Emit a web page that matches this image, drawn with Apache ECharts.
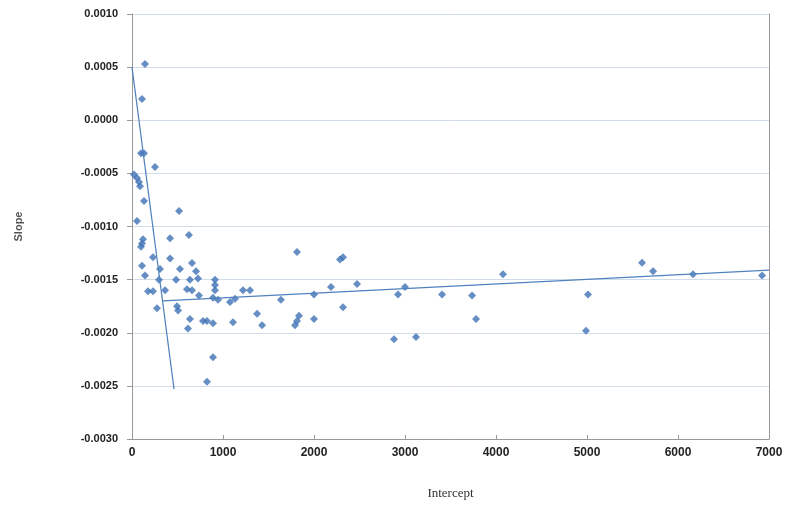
<!DOCTYPE html>
<html>
<head>
<meta charset="utf-8">
<script src="https://cdn.jsdelivr.net/npm/echarts@6/dist/echarts.min.js"></script>
<style>html,body{margin:0;padding:0;background:#fff;}#c{width:788px;height:506px;}</style>
</head>
<body>
<div id="c"></div>
<script>
var intercepts = [143,110,99,132,253,22,55,77,88,132,55,517,121,110,99,418,626,231,418,659,110,308,527,703,143,297,484,637,725,912,912,912,176,231,363,604,659,736,890,945,1077,1132,1220,1297,275,495,506,637,780,824,890,1110,1374,1429,615,890,824,1637,1813,1791,1813,1835,2000,2000,2187,2286,2319,2319,2473,2879,2923,3000,3121,3407,3737,3781,4077,5011,4989,5605,5726,6165,6924];
var slopes = [0.00053,0.0002,-0.00031,-0.00031,-0.00044,-0.00051,-0.000544,-0.00058,-0.00062,-0.00076,-0.000948,-0.000854,-0.00112,-0.00116,-0.00119,-0.00111,-0.00108,-0.00129,-0.0013,-0.001344,-0.00137,-0.0014,-0.0014,-0.00142,-0.00146,-0.0015,-0.0015,-0.0015,-0.00149,-0.0015,-0.00155,-0.0016,-0.00161,-0.00161,-0.0016,-0.00159,-0.0016,-0.00165,-0.00167,-0.00169,-0.00171,-0.00168,-0.0016,-0.0016,-0.00177,-0.00175,-0.00179,-0.00187,-0.00189,-0.00189,-0.00191,-0.0019,-0.00182,-0.00193,-0.00196,-0.00223,-0.00246,-0.00169,-0.00124,-0.00193,-0.00189,-0.00184,-0.00164,-0.00187,-0.00157,-0.00131,-0.00129,-0.00176,-0.00154,-0.00206,-0.00164,-0.00157,-0.00204,-0.00164,-0.00165,-0.00187,-0.00145,-0.00164,-0.00198,-0.00134,-0.00142,-0.00145,-0.00146];
var trendSteepX = [0, 462];
var trendSteepY = [0.0005, -0.00253];
var trendFlatX = [340, 7000];
var trendFlatY = [-0.0017, -0.00141];
var xTicks = {min: 0, max: 7000, step: 1000};
var yTicks = {min: -0.003, max: 0.001, step: 0.0005};

var pts = intercepts.map(function(x, i){ return [x, slopes[i]]; });
var steep = trendSteepX.map(function(x, i){ return [x, trendSteepY[i]]; });
var flat = trendFlatX.map(function(x, i){ return [x, trendFlatY[i]]; });

var chart = echarts.init(document.getElementById('c'));
var lab = {fontFamily: 'Liberation Sans, Arial, sans-serif', fontWeight: 'bold', fontSize: 11, color: '#222'};
chart.setOption({
  animation: false,
  backgroundColor: '#fff',
  grid: {left: 132, right: 19, top: 14, bottom: 67, containLabel: false},
  xAxis: {
    type: 'value', min: xTicks.min, max: xTicks.max, interval: xTicks.step,
    name: 'Intercept', nameLocation: 'middle', nameGap: 48,
    nameTextStyle: {fontFamily: 'Liberation Serif, serif', fontSize: 13, color: '#333'},
    axisLine: {show: true, onZero: false, lineStyle: {color: '#999', width: 1}},
    axisTick: {show: true, inside: true, length: 4, lineStyle: {color: '#999'}},
    axisLabel: Object.assign({margin: 8, fontSize: 12, formatter: function(v){ return String(Math.round(v)); }}, {fontFamily: lab.fontFamily, fontWeight: 'bold', color: '#222'}),
    splitLine: {show: false}
  },
  yAxis: [{
    type: 'value', min: yTicks.min, max: yTicks.max, interval: yTicks.step,
    name: 'Slope', nameLocation: 'middle', nameGap: 108, nameRotate: 90,
    nameTextStyle: {fontFamily: 'Liberation Sans, Arial, sans-serif', fontWeight: 'bold', fontSize: 11, color: '#555'},
    axisLine: {show: true, onZero: false, lineStyle: {color: '#999', width: 1}},
    axisTick: {show: true, length: 5, lineStyle: {color: '#999'}},
    axisLabel: Object.assign({margin: 14, formatter: function(v){ if (Math.abs(v) < 1e-9) v = 0; return v.toFixed(4); }}, lab),
    splitLine: {show: true, lineStyle: {color: '#d3dde8', width: 1}}
  }, {
    type: 'value', position: 'right', min: yTicks.min, max: yTicks.max, interval: yTicks.step,
    axisLine: {show: true, onZero: false, lineStyle: {color: '#999', width: 1}},
    axisTick: {show: false}, axisLabel: {show: false}, splitLine: {show: false}
  }],
  series: [{
    type: 'scatter', data: pts, symbol: 'diamond', symbolSize: 8,
    itemStyle: {color: '#3f72b5'}
  }, {
    type: 'line', data: steep, symbol: 'none', lineStyle: {color: '#4f81bd', width: 1.2}
  }, {
    type: 'line', data: flat, symbol: 'none', lineStyle: {color: '#4f81bd', width: 1.2}
  }]
});
</script>
</body>
</html>
